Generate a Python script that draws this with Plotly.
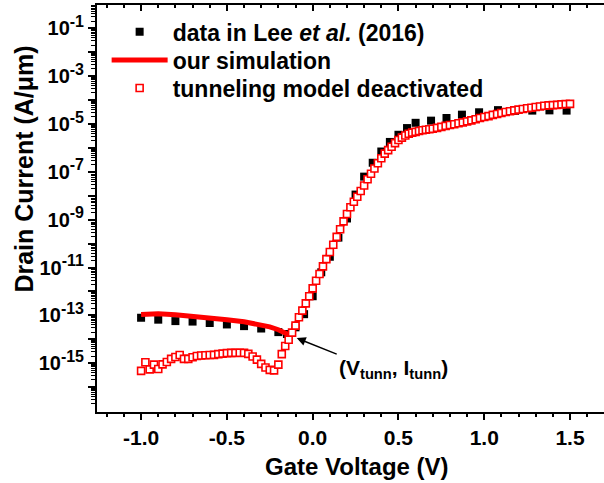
import numpy as np
import plotly.graph_objects as go

# ---------------- data ----------------
# Measured data, Lee et al. (2016): gate voltage (V) and log10 of drain current (A/um)
data_v = [-1.0, -0.9, -0.8, -0.7, -0.6, -0.5, -0.4, -0.3, -0.2, -0.15, -0.1, -0.05,
          0.0, 0.05, 0.1, 0.15, 0.2, 0.25, 0.3, 0.35, 0.4, 0.45, 0.5, 0.55, 0.6,
          0.69, 0.78, 0.87, 0.97, 1.08, 1.18, 1.28, 1.38, 1.48]
data_log_i = [-13.10, -13.18, -13.24, -13.26, -13.32, -13.38, -13.45, -13.55, -13.70, -13.78,
              -13.50, -12.95, -12.20, -11.20, -10.55, -9.75, -8.95, -7.95, -7.20, -6.62,
              -6.15, -5.75, -5.45, -5.17, -4.95, -4.86, -4.75, -4.61, -4.51, -4.42,
              -4.45, -4.44, -4.43, -4.44]

# Simulation with tunneling model deactivated
notun_v = [-1.0, -0.975, -0.95, -0.925, -0.9, -0.875, -0.85, -0.825, -0.8, -0.775,
           -0.75, -0.725, -0.7, -0.675, -0.65, -0.625, -0.6, -0.575, -0.55, -0.525,
           -0.5, -0.475, -0.45, -0.425, -0.4, -0.375, -0.35, -0.325, -0.3, -0.275,
           -0.25, -0.225, -0.2,
           -0.18, -0.16, -0.14, -0.12, -0.10, -0.08, -0.06, -0.04, -0.02, 0.0,
           0.02, 0.04, 0.06, 0.08, 0.10, 0.12, 0.14, 0.16, 0.18, 0.20,
           0.22, 0.24, 0.26, 0.28, 0.30, 0.32, 0.34, 0.36, 0.38, 0.40,
           0.42, 0.44, 0.46, 0.48, 0.50, 0.52, 0.54, 0.56, 0.58, 0.60,
           0.62, 0.64, 0.66, 0.68,
           0.70, 0.725, 0.75, 0.775, 0.8, 0.825, 0.85, 0.875, 0.9, 0.925,
           0.95, 0.975, 1.0, 1.025, 1.05, 1.075, 1.1, 1.125, 1.15, 1.175,
           1.2, 1.225, 1.25, 1.275, 1.3, 1.325, 1.35, 1.375, 1.4, 1.425,
           1.45, 1.475, 1.5]
notun_log_i = [-15.32, -14.96, -15.26, -15.06, -15.24, -15.05, -14.95, -14.82, -14.74, -14.66,
               -14.82, -14.82, -14.75, -14.70, -14.68, -14.67, -14.66, -14.65, -14.62, -14.60,
               -14.58, -14.57, -14.57, -14.56, -14.57, -14.61, -14.72, -14.85, -15.03, -15.18,
               -15.28, -15.30, -15.06,
               -14.62, -14.28, -14.02, -13.72, -13.43, -13.08, -12.80, -12.50, -12.20, -11.87,
               -11.55, -11.27, -10.95, -10.65, -10.35, -10.05, -9.72, -9.40, -9.07, -8.76,
               -8.48, -8.25, -8.04, -7.80, -7.57, -7.31, -7.08, -6.86, -6.64, -6.43,
               -6.24, -6.09, -5.95, -5.80, -5.67, -5.57, -5.48, -5.41, -5.36, -5.33,
               -5.29, -5.26, -5.24, -5.22,
               -5.20, -5.16, -5.12, -5.08, -5.04, -5.01, -4.97, -4.93, -4.89, -4.85,
               -4.80, -4.75, -4.71, -4.67, -4.62, -4.58, -4.54, -4.50, -4.47, -4.43,
               -4.40, -4.37, -4.34, -4.32, -4.29, -4.27, -4.24, -4.22, -4.21, -4.20,
               -4.18, -4.17, -4.16]

# Our simulation (with tunneling): sub-threshold part; above V_tunn it follows the curve above
sim_low_v = [-1.0, -0.95, -0.9, -0.8, -0.7, -0.6, -0.5, -0.4, -0.3, -0.25, -0.2, -0.175, -0.15, -0.13]
sim_low_log_i = [-12.96, -12.93, -12.93, -12.97, -13.03, -13.10, -13.18, -13.27, -13.40, -13.48,
                 -13.60, -13.70, -13.80, -13.84]
v_tunn_join = -0.12

x_tick_vals = [-1.0, -0.5, 0.0, 0.5, 1.0, 1.5]
x_tick_text = ["-1.0", "-0.5", "0.0", "0.5", "1.0", "1.5"]
y_tick_exps = [-1, -2, -3, -4, -5, -6, -7, -8, -9, -10, -11, -12, -13, -14, -15, -16]

# ---------------- build ----------------
sim_v = sim_low_v + [v for v in notun_v if v >= v_tunn_join - 1e-9]
sim_log_i = sim_low_log_i + [l for v, l in zip(notun_v, notun_log_i) if v >= v_tunn_join - 1e-9]

FONT = "Liberation Sans"
RED = "#ff0000"

fig = go.Figure()
fig.add_trace(go.Scatter(
    x=data_v, y=np.power(10.0, data_log_i), mode="markers",
    name="data in Lee <i>et al.</i> (2016)", legend="legend",
    marker=dict(symbol="square", size=8, color="black", line=dict(width=0))))
fig.add_trace(go.Scatter(
    x=sim_v, y=np.power(10.0, sim_log_i), mode="lines",
    name="our simulation", legend="legend2", line=dict(color=RED, width=5)))
fig.add_trace(go.Scatter(
    x=notun_v, y=np.power(10.0, notun_log_i), mode="markers",
    name="tunneling model deactivated", legend="legend3",
    marker=dict(symbol="square", size=7, color="white", line=dict(color=RED, width=1.6))))

y_tickvals = [10.0 ** e for e in y_tick_exps]
y_ticktext = ["10<sup><span style='font-size:16px'>%d</span></sup>" % e if e % 2 else ""
              for e in y_tick_exps]
y_minor = [m * 10.0 ** e for e in range(-18, 0) for m in range(2, 10)]

xr = [-1.257, 1.698]
xtickfont = dict(family=FONT, size=21, color="black", weight="bold")
ytickfont = dict(family=FONT, size=20, color="black", weight="bold")
legfont = dict(family=FONT, size=23, color="black", weight="bold")


def leg(yc):
    return dict(x=0.019, y=yc, xanchor="left", yanchor="middle",
                bgcolor="rgba(0,0,0,0)", borderwidth=0, itemwidth=56,
                font=legfont, tracegroupgap=0)


fig.update_layout(
    width=604, height=483,
    margin=dict(l=97, r=0, t=5, b=71),
    paper_bgcolor="white", plot_bgcolor="white",
    showlegend=True,
    legend=leg(0.934), legend2=leg(0.865), legend3=leg(0.796),
    xaxis=dict(range=xr, tickvals=x_tick_vals, ticktext=x_tick_text,
               ticks="outside", ticklen=6, tickwidth=1.5, tickcolor="black",
               showline=True, linewidth=2, linecolor="black",
               showgrid=False, zeroline=False, tickfont=xtickfont,
               minor=dict(dtick=0.1, tick0=0, ticks="outside", ticklen=3,
                          tickwidth=1.5, tickcolor="black", showgrid=False)),
    xaxis2=dict(range=xr, overlaying="x", side="top", anchor="y",
                tickvals=x_tick_vals, showticklabels=False,
                ticks="inside", ticklen=6, tickwidth=1.5, tickcolor="black",
                showline=True, linewidth=2, linecolor="black",
                showgrid=False, zeroline=False,
                minor=dict(dtick=0.1, tick0=0, ticks="inside", ticklen=3,
                           tickwidth=1.5, tickcolor="black", showgrid=False)),
    yaxis=dict(type="log", range=[-17.04, -0.025],
               tickvals=y_tickvals, ticktext=y_ticktext,
               ticks="outside", ticklen=7, tickwidth=1.5, tickcolor="black",
               showline=True, linewidth=2, linecolor="black",
               showgrid=False, zeroline=False, tickfont=ytickfont,
               minor=dict(tickvals=y_minor, ticks="outside", ticklen=4,
                          tickwidth=1, tickcolor="black", showgrid=False)),
    annotations=[
        dict(text="Gate Voltage (V)", xref="paper", yref="paper",
             x=0.512, y=-0.1327, xanchor="center", yanchor="middle", showarrow=False,
             font=dict(family=FONT, size=24, color="black", weight="bold")),
        dict(text="Drain Current (A/\u03bcm)", xref="paper", yref="paper",
             x=-0.144, y=0.598, xanchor="center", yanchor="middle", showarrow=False,
             textangle=-90,
             font=dict(family=FONT, size=25, color="black", weight="bold")),
        dict(text="(V<sub>tunn</sub>, I<sub>tunn</sub>)", xref="x", yref="y",
             x=-0.093, y=-13.95, ax=40, ay=16, axref="pixel", ayref="pixel",
             xanchor="left", yanchor="top", showarrow=True,
             arrowhead=2, arrowsize=1.2, arrowwidth=1.5, arrowcolor="black",
             font=dict(family=FONT, size=21, color="black", weight="bold")),
    ],
)
fig.add_trace(go.Scatter(x=[None], y=[None], xaxis="x2", yaxis="y", showlegend=False,
                         hoverinfo="skip"))

fig.write_html("out.html")
